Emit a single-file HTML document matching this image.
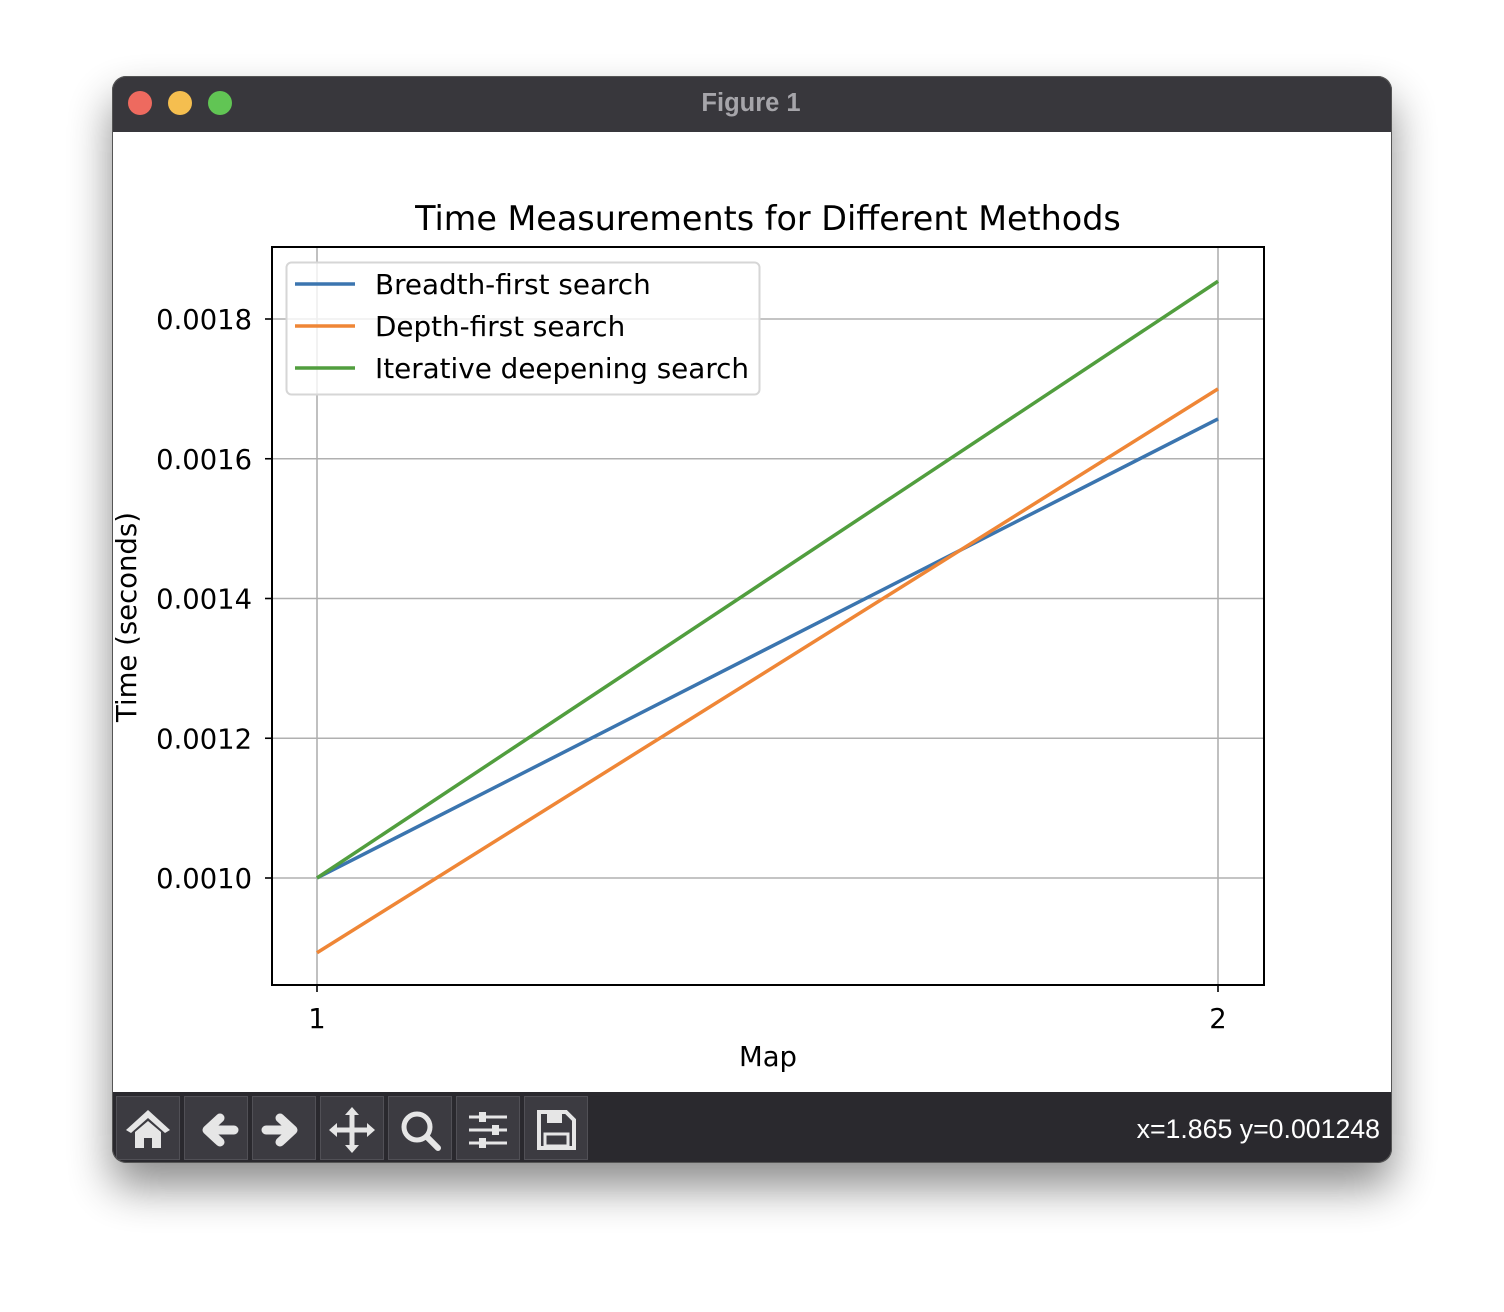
<!DOCTYPE html>
<html><head><meta charset="utf-8"><style>
html,body{margin:0;padding:0;background:#fff;width:1504px;height:1312px;overflow:hidden}
svg text{font-family:"DejaVu Sans","Liberation Sans",sans-serif}
</style></head><body>
<svg id="root" width="1504" height="1312" xmlns="http://www.w3.org/2000/svg">
<defs>
<filter id="sh" x="-20%" y="-20%" width="140%" height="150%"><feGaussianBlur stdDeviation="22"/></filter>
<clipPath id="win"><rect x="112" y="76" width="1280" height="1087" rx="14"/></clipPath>
</defs>
<rect x="112" y="100" width="1280" height="1087" rx="14" fill="#000" opacity="0.45" filter="url(#sh)"/>
<g clip-path="url(#win)">
<rect x="112" y="76" width="1280" height="1087" fill="#fff"/>
<rect x="112" y="76" width="1280" height="56" fill="#38373c"/>
<circle cx="140" cy="103" r="12" fill="#ee6a5f"/>
<circle cx="180" cy="103" r="12" fill="#f5be4f"/>
<circle cx="220" cy="103" r="12" fill="#61c554"/>
<text x="751" y="111" text-anchor="middle" font-size="25.5" font-weight="bold" fill="#a6a5aa" style="font-family:'Liberation Sans',sans-serif">Figure 1</text>
<rect x="112" y="1092" width="1280" height="71" fill="#2a292e"/>
<g id="tb"></g>
<text x="1380" y="1138" text-anchor="end" font-size="26.7" fill="#fff" style="font-family:'Liberation Sans',sans-serif">x=1.865 y=0.001248</text>
</g>
<rect x="112.5" y="76.5" width="1279" height="1086" rx="14" fill="none" stroke="#555" stroke-width="1"/>
<text x="768" y="230" text-anchor="middle" font-size="33.4" fill="#000">Time Measurements for Different Methods</text>
<g id="plot"></g>
<text x="768" y="1066" text-anchor="middle" font-size="27.5">Map</text>
<text transform="translate(136,617) rotate(-90)" text-anchor="middle" font-size="27.5">Time (seconds)</text>
</svg>
<script>
const categories=[1,2];
const bfsValues=[0.0010,0.001657];
const dfsValues=[0.000893,0.0017];
const idsValues=[0.0010,0.001854];
const yTicks=[0.0010,0.0012,0.0014,0.0016,0.0018];
const yTickLabels=["0.0010","0.0012","0.0014","0.0016","0.0018"];
const xTickLabels=["1","2"];
const seriesNames=["Breadth-first search","Depth-first search","Iterative deepening search"];
const NS="http://www.w3.org/2000/svg";
const L=272,R=1264,T=247,B=985;
const xs=v=>317+(v-1)*901;
const ys=v=>878-(v-0.0010)/0.0002*139.75;
const plot=document.getElementById('plot');
function mk(tag,attrs,parent){const e=document.createElementNS(NS,tag);for(const k in attrs)e.setAttribute(k,attrs[k]);(parent||plot).appendChild(e);return e;}
yTicks.forEach((t,i)=>{const y=ys(t);
const g=mk('line',{x1:L,x2:R,y1:y,y2:y,stroke:'#b0b0b0','stroke-width':1.6});


const tk=mk('line',{x1:L-7,x2:L,y1:y,y2:y,stroke:'#000','stroke-width':1.6});


const tx=mk('text',{x:L-20,y:y+10,'text-anchor':'end','font-size':27.4});tx.textContent=yTickLabels[i];


});
categories.forEach((c,i)=>{const x=xs(c);
const g=mk('line',{x1:x,x2:x,y1:T,y2:B,stroke:'#b0b0b0','stroke-width':1.6});


const tk=mk('line',{x1:x,x2:x,y1:B,y2:B+7,stroke:'#000','stroke-width':1.6});


const tx=mk('text',{x:x,y:B+43,'text-anchor':'middle','font-size':27.4});tx.textContent=xTickLabels[i];


});
const colors=['#3b75af','#ef8636','#519e3e'];
[bfsValues,dfsValues,idsValues].forEach((vals,si)=>{
const pts=vals.map((v,i)=>xs(categories[i])+','+ys(v)).join(' ');
const p=mk('polyline',{points:pts,fill:'none',stroke:colors[si],'stroke-width':3.5});


});
const fr=mk('rect',{x:L,y:T,width:R-L,height:B-T,fill:'none',stroke:'#000','stroke-width':2});


const lg=mk('rect',{x:286.5,y:262.5,width:473,height:132,rx:5,fill:'#fff','fill-opacity':0.8,stroke:'#d6d6d6','stroke-width':2});


seriesNames.forEach((n,i)=>{const y=284+i*42;
const l=mk('line',{x1:295,x2:355,y1:y,y2:y,stroke:colors[i],'stroke-width':3.5});


const t=mk('text',{x:375,y:y+10,'font-size':27.8});t.textContent=n;


});
const tb=document.getElementById('tb');
const names=['home-button','back-button','forward-button','pan-button','zoom-tool-button','configure-button','save-button'];
const icons=[
'<path d="M0,-20 L-22,0 L-17,3 L0,-12 L17,3 L22,0 Z M-13,2 L0,-9 L13,2 L13,18 L4,18 L4,8 L-4,8 L-4,18 L-13,18 Z" fill="#e6e6e6"/>',
'<path d="M18,0 L-4,0 M4,-12 L-9,0 L4,12" stroke="#e6e6e6" stroke-width="9" stroke-linecap="round" stroke-linejoin="round" fill="none"/>',
'<path d="M-18,0 L4,0 M-4,-12 L9,0 L-4,12" stroke="#e6e6e6" stroke-width="9" stroke-linecap="round" stroke-linejoin="round" fill="none"/>',
'<path d="M0,-18 V18 M-18,0 H18" stroke="#e6e6e6" stroke-width="5"/><path d="M0,-23 l-7,8 h14z M0,23 l-7,-8 h14z M-23,0 l8,-7 v14z M23,0 l-8,-7 v14z" fill="#e6e6e6"/>',
'<circle cx="-3" cy="-3" r="13" stroke="#e6e6e6" stroke-width="5" fill="none"/><path d="M7,7 L18,18" stroke="#e6e6e6" stroke-width="6" stroke-linecap="round"/>',
'<path d="M-19,-13 H19 M-19,0 H19 M-19,13 H19" stroke="#e6e6e6" stroke-width="3"/><rect x="-9" y="-18" width="7" height="10" fill="#e6e6e6"/><rect x="4" y="-5" width="7" height="10" fill="#e6e6e6"/><rect x="-9" y="8" width="7" height="10" fill="#e6e6e6"/>',
'<path d="M-17,-18 H10 L18,-10 V18 H-17 Z" stroke="#e6e6e6" stroke-width="4" fill="none"/><rect x="-9" y="-18" width="15" height="11" fill="#e6e6e6"/><rect x="-11" y="4" width="23" height="12" stroke="#e6e6e6" stroke-width="3" fill="none"/>'];
names.forEach((n,i)=>{const x=116+i*68;
const g=document.createElementNS(NS,'g');tb.appendChild(g);


g.innerHTML='<rect x="'+(x+0.5)+'" y="1096.5" width="63" height="63" fill="#3c3b41" stroke="#515056"/><g transform="translate('+(x+32)+',1130)">'+icons[i]+'</g>';
});
</script>
</body></html>
